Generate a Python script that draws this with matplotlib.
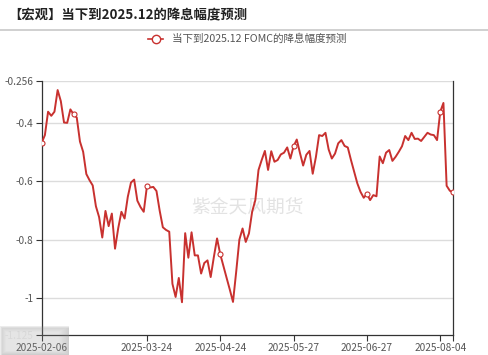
import numpy as np
import matplotlib
matplotlib.use("Agg")
import matplotlib.pyplot as plt

plt.rcParams['font.family'] = ['Noto Sans CJK SC', 'DejaVu Sans']
plt.rcParams['axes.unicode_minus'] = False

title = "【宏观】当下到2025.12的降息幅度预测"
series_name = "当下到2025.12 FOMC的降息幅度预测"

# values, one per trading day
cut_pred = [
    -0.468, -0.442, -0.362, -0.376, -0.362, -0.288, -0.326, -0.399, -0.400, -0.354,
    -0.371, -0.382, -0.464, -0.499, -0.575, -0.596, -0.614, -0.685, -0.722, -0.792,
    -0.701, -0.753, -0.710, -0.830, -0.760, -0.704, -0.727, -0.653, -0.604, -0.594,
    -0.666, -0.688, -0.704, -0.617, -0.621, -0.619, -0.633, -0.700, -0.757, -0.766,
    -0.772, -0.950, -0.995, -0.930, -1.013, -0.777, -0.861, -0.774, -0.853, -0.853,
    -0.915, -0.879, -0.870, -0.927, -0.858, -0.795, -0.849, -0.890, -0.930, -0.970,
    -1.012, -0.909, -0.799, -0.761, -0.807, -0.778, -0.704, -0.664, -0.561, -0.527,
    -0.496, -0.561, -0.497, -0.533, -0.527, -0.508, -0.502, -0.484, -0.522, -0.480,
    -0.457, -0.503, -0.546, -0.509, -0.496, -0.574, -0.517, -0.442, -0.445, -0.434,
    -0.491, -0.522, -0.505, -0.470, -0.459, -0.479, -0.484, -0.527, -0.567, -0.607,
    -0.636, -0.656, -0.643, -0.664, -0.647, -0.651, -0.515, -0.538, -0.502, -0.493,
    -0.530, -0.516, -0.499, -0.480, -0.445, -0.459, -0.434, -0.455, -0.454, -0.462,
    -0.448, -0.434, -0.440, -0.442, -0.459, -0.362, -0.332, -0.615, -0.632, -0.638,
]

tick_idx = [0, 33, 56, 79, 102, 125]
tick_labels = ["2025-02-06", "2025-03-24", "2025-04-24", "2025-05-27", "2025-06-27", "2025-08-04"]
marker_idx = [0, 10, 33, 56, 79, 102, 125, 129]

y_ticks = [-1.125, -1, -0.8, -0.6, -0.4, -0.256]
y_labels = ["-1.125", "-1", "-0.8", "-0.6", "-0.4", "-0.256"]

red = '#c8312f'
x = np.arange(len(cut_pred))

fig = plt.figure(figsize=(4.88, 3.55), dpi=100)
ax = fig.add_axes([41.7 / 488, 20 / 355, (453 - 41.7) / 488, (335 - 80.7) / 355])

ax.plot(x, cut_pred, color=red, lw=1.4, zorder=3,
        marker='o', markevery=marker_idx, ms=3.6, mfc='white', mec=red, mew=0.8)

ax.set_xlim(0, len(cut_pred) - 1)
ax.set_ylim(-1.125, -0.256)
ax.set_yticks(y_ticks)
ax.set_yticklabels(y_labels)
ax.set_xticks(tick_idx)
ax.set_xticklabels(tick_labels)
ax.set_xticks([len(cut_pred) - 1], minor=True)

for v in y_ticks[1:]:
    ax.axhline(v, color='#dcdcdc', lw=1, zorder=1)

for s in ['left', 'bottom', 'right']:
    ax.spines[s].set_color('#333333')
    ax.spines[s].set_linewidth(0.9)
ax.spines['top'].set_visible(False)
ax.tick_params(axis='both', which='both', length=4, width=0.8, color='#333333',
               labelsize=7.3, labelcolor='#555555', pad=2)
# the lowest y label sits under the blurred patch and looks washed out
ax.get_yticklabels()[0].set_color('#eeeeee')

ax.text(0.5, 0.50, "紫金天风期货", transform=ax.transAxes, ha='center', va='center',
        fontsize=13.5, color='#e3e3e3', zorder=2)

fig.text(8 / 488, 1 - 15 / 355, title, fontsize=9.6, fontweight='bold',
         ha='left', va='center', color='#222222')
fig.add_artist(plt.Line2D([0, 1], [1 - 30 / 355, 1 - 30 / 355],
                          color='#c8c8c8', lw=1.2))

# legend
ly = 1 - 39 / 355
fig.add_artist(plt.Line2D([148 / 488, 163 / 488], [ly, ly], color=red, lw=1.2))
fig.add_artist(plt.Line2D([155.5 / 488], [ly], marker='o', ms=6, mfc='white',
                          mec=red, mew=1.0))
fig.text(172 / 488, ly, series_name, fontsize=7.6, color='#555555',
         ha='left', va='center')

# blurred patch in the bottom-left corner of the screenshot
ov = fig.add_axes([0, 0, 69 / 488, 29 / 355], zorder=5)
h, w = 29, 69
yy, xx = np.mgrid[0:h, 0:w]
edge = np.minimum.reduce([xx / 6.0, (w - 1 - xx) / 10.0, yy / 6.0, (h - 1 - yy) / 4.0])
edge = np.clip(edge, 0, 1)
rgba = np.zeros((h, w, 4))
rgba[..., :3] = 0.55
rgba[..., 3] = 0.42 - 0.2 * edge
rgba[..., 3] *= np.clip(np.minimum(xx / 3.0, yy / 3.0) + 0.4, 0, 1)
ov.imshow(rgba, aspect='auto', interpolation='bilinear')
ov.axis('off')

fig.savefig('out.png', dpi=100)
